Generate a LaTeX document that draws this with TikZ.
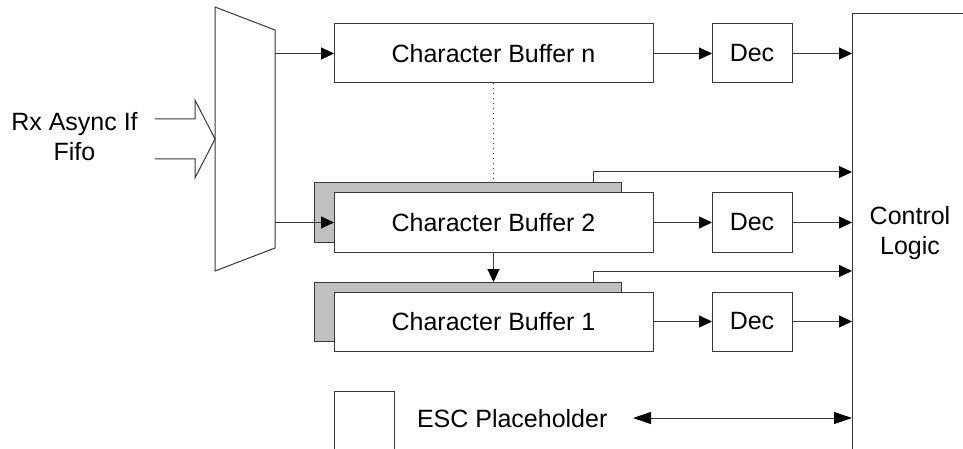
\documentclass[tikz,border=0pt]{standalone}
\usepackage{fontspec}
\setmainfont{Liberation Sans}
\usetikzlibrary{arrows.meta,fit}
\definecolor{ln}{HTML}{383838}
\definecolor{shd}{HTML}{C0C0C0}
\begin{document}
\begin{tikzpicture}[x=1pt,y=-1pt,
  every node/.style={outer sep=0pt,inner sep=0pt},
  txt/.style={font=\fontsize{25}{30}\selectfont},
  box/.style={draw=ln,line width=1pt,fill=white,txt},
  shadowbox/.style={draw=ln,line width=1pt,fill=shd},
  conn/.style={draw=ln,line width=1pt,-{Triangle[length=13pt,width=12pt,color=black]}},
  biconn/.style={draw=ln,line width=1pt,{Triangle[length=18pt,width=12pt,color=black]}-{Triangle[length=18pt,width=12pt,color=black]}},
  plain/.style={draw=ln,line width=1pt}]
\clip (0,0) rectangle (963,449);
\fill[white] (0,0) rectangle (963,449);

% input
\node[txt,align=center] (rx) at (74.5,137) {Rx Async If\\Fifo};
\draw[plain,line join=miter] (155,119) -- (195,119) -- (195,100) -- (215,139) coordinate (muxin) -- (195,178) -- (195,159) -- (155,159);

% mux
\draw[plain] (215,7) -- (275,30) -- (275,248) -- (215,271) -- cycle;
\coordinate (muxr) at (275,139);

% buffers
\node[box,minimum width=319pt,minimum height=59pt] (bufn) at (493.5,53.5) {Character Buffer n};
\node[shadowbox,minimum width=307pt,minimum height=59pt] (sh2) at (467.5,212.5) {};
\node[box,minimum width=319pt,minimum height=59pt] (buf2) at (493.5,222.5) {Character Buffer 2};
\node[shadowbox,minimum width=307pt,minimum height=59pt] (sh1) at (467.5,311.5) {};
\node[box,minimum width=319pt,minimum height=59pt] (buf1) at (493.5,321.5) {Character Buffer 1};

% decoders
\node[box,minimum width=80pt,minimum height=59pt] (decn) at (752,53.5) {Dec};
\node[box,minimum width=80pt,minimum height=59pt] (dec2) at (752,222.5) {Dec};
\node[box,minimum width=80pt,minimum height=59pt] (dec1) at (752,321.5) {Dec};

% control logic
\node[plain,fit={(852,14) (990,470)}] (ctrl) {};
\node[txt,align=center] (ctrltxt) at (910,233.5) {Control\\Logic};

% ESC placeholder
\node[plain,fit={(334,391) (394,470)}] (esc) {};
\node[txt,anchor=base west] (esctxt) at (417,427) {ESC Placeholder};
\coordinate (escarrow) at (633,418);

% connectors
\draw[conn] (muxr |- bufn.west) -- (bufn.west);
\draw[conn] (muxr |- buf2.west) -- (buf2.west);
\draw[conn] (bufn.east) -- (decn.west);
\draw[conn] (buf2.east) -- (dec2.west);
\draw[conn] (buf1.east) -- (dec1.west);
\draw[conn] (decn.east) -- (decn.east -| ctrl.west);
\draw[conn] (dec2.east) -- (dec2.east -| ctrl.west);
\draw[conn] (dec1.east) -- (dec1.east -| ctrl.west);
\draw[conn] (buf2.south) -- (buf2.south |- sh1.north);
\draw[draw=ln,line width=1pt,dash pattern=on 1pt off 4pt] (bufn.south) -- (bufn.south |- sh2.north);
\draw[conn] ([xshift=-28pt]sh2.north east) -- ++(0,-11) coordinate (t2) -- (t2 -| ctrl.west);
\draw[conn] ([xshift=-28pt]sh1.north east) -- ++(0,-11) coordinate (t1) -- (t1 -| ctrl.west);
\draw[biconn] (escarrow) -- (escarrow -| ctrl.west);
\end{tikzpicture}
\end{document}
